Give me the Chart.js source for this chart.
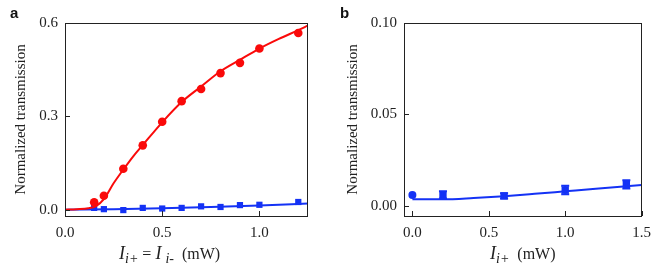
<!DOCTYPE html>
<html><head><meta charset="utf-8">
<script src="https://cdn.jsdelivr.net/npm/chart.js@4/dist/chart.umd.min.js"></script>
<style>
html,body{margin:0;padding:0;background:#fff;}
#wrap{position:relative;width:659px;height:275px;overflow:hidden;}
.cv{position:absolute;top:0;}
.lbl{position:absolute;font-family:"Liberation Sans",Arial,sans-serif;font-weight:bold;font-size:15px;color:#111;}
.xt{position:absolute;font-family:"Liberation Serif","Times New Roman",serif;font-size:16px;color:#222;white-space:nowrap;}
.xt i.big{font-size:18px;}
.xt sub{font-size:14px;font-style:italic;vertical-align:-4px;}
</style></head>
<body><div id="wrap">
<div class="cv" style="left:0;width:330px;height:275px;"><canvas id="ca"></canvas></div>
<div class="cv" style="left:330px;width:329px;height:275px;"><canvas id="cb"></canvas></div>
<div class="lbl" style="left:10px;top:4px;">a</div>
<div class="lbl" style="left:340px;top:4px;">b</div>
<div class="xt" style="left:119px;top:243px;"><i class="big">I</i><sub>i+</sub> = <i class="big">I</i> <sub>i-</sub>&nbsp;&nbsp;(mW)</div>
<div class="xt" style="left:490px;top:243px;"><i class="big">I</i><sub>i+</sub>&nbsp;&nbsp;(mW)</div>
</div>
<script>
// ---- Panel a data ----
const xA = [0.15, 0.2, 0.3, 0.4, 0.5, 0.6, 0.7, 0.8, 0.9, 1.0, 1.2];
const redA = [0.024, 0.045, 0.132, 0.207, 0.283, 0.349, 0.388, 0.439, 0.472, 0.518, 0.568];
const blueA = [0.006, 0.002, -0.001, 0.006, 0.004, 0.006, 0.011, 0.009, 0.015, 0.016, 0.025];
const fitXA = [0, 0.06, 0.12, 0.16, 0.2, 0.25, 0.3, 0.35, 0.4, 0.5, 0.6, 0.7, 0.8, 0.9, 1.0, 1.1, 1.2, 1.25];
const fitRedA = [0.0, 0.002, 0.005, 0.012, 0.034, 0.085, 0.129, 0.171, 0.208, 0.281, 0.346, 0.396, 0.445, 0.482, 0.518, 0.549, 0.577, 0.592];
const fitBlueXA = [0, 0.25, 0.5, 0.75, 1.0, 1.25];
const fitBlueA = [0.0, 0.002, 0.005, 0.009, 0.014, 0.020];
const xTicksA = [0, 0.5, 1.0];
const yTicksA = [0, 0.3, 0.6];
// ---- Panel b data ----
const xB = [0, 0.2, 0.6, 1.0, 1.4];
const yB = [0.0060, 0.0060, 0.0055, 0.0087, 0.0118];
const errB = [0.0005, 0.0020, 0.0015, 0.0023, 0.0023];
const fitXB = [0, 0.2, 0.4, 0.6, 0.8, 1.0, 1.2, 1.5];
const fitYB = [0.0036, 0.0036, 0.0043, 0.0053, 0.0066, 0.0080, 0.0094, 0.0114];
const xTicksB = [0, 0.5, 1.0, 1.5];
const yTicksB = [0, 0.05, 0.10];

const RED = 'rgb(250,10,10)';
const BLUE = 'rgb(20,50,245)';
const SERIF = '"Liberation Serif","Times New Roman",serif';

const pts = (xs, ys) => xs.map((x, i) => ({x, y: ys[i]}));

const framePlugin = {
  id: 'frame',
  afterDraw(chart) {
    const {ctx, chartArea: a, scales} = chart;
    ctx.save();
    ctx.strokeStyle = '#222';
    ctx.lineWidth = 1;
    ctx.strokeRect(Math.round(a.left) + 0.5, Math.round(a.top) + 0.5, Math.round(a.right - a.left) - 1, Math.round(a.bottom - a.top));
    const L = 5;
    scales.x.ticks.forEach(t => {
      const px = Math.round(scales.x.getPixelForValue(t.value)) + 0.5;
      ctx.beginPath(); ctx.moveTo(px, a.bottom); ctx.lineTo(px, a.bottom - L); ctx.stroke();
    });
    scales.y.ticks.forEach(t => {
      const py = Math.round(scales.y.getPixelForValue(t.value)) + 0.5;
      ctx.beginPath(); ctx.moveTo(a.left, py); ctx.lineTo(a.left + L, py); ctx.stroke();
    });
    ctx.restore();
  }
};

const errPlugin = {
  id: 'errbars',
  afterDatasetsDraw(chart, args, opts) {
    if (!opts.errs) return;
    const {ctx, scales} = chart;
    const ds = chart.data.datasets[opts.index];
    ctx.save();
    ctx.strokeStyle = opts.color;
    ctx.lineWidth = 2;
    ds.data.forEach((p, i) => {
      const e = opts.errs[i];
      const px = scales.x.getPixelForValue(p.x);
      const y1 = scales.y.getPixelForValue(p.y - e);
      const y2 = scales.y.getPixelForValue(p.y + e);
      ctx.beginPath();
      ctx.moveTo(px, y1); ctx.lineTo(px, y2);
      if (e > 0.001) {
        ctx.moveTo(px - 4, y1); ctx.lineTo(px + 4, y1);
        ctx.moveTo(px - 4, y2); ctx.lineTo(px + 4, y2);
      }
      ctx.stroke();
    });
    ctx.restore();
  }
};

function makeOpts(cfg) {
  return {
    responsive: false,
    animation: false,
    devicePixelRatio: 1,
    layout: {padding: {top: cfg.top, right: cfg.right, bottom: 0, left: cfg.left}},
    plugins: {legend: {display: false}, tooltip: {enabled: false}, errbars: cfg.err || {}},
    scales: {
      x: {
        type: 'linear', min: cfg.xmin, max: cfg.xmax,
        afterBuildTicks: s => { s.ticks = cfg.xt.map(v => ({value: v})); },
        afterFit: s => { s.height = cfg.xh; },
        grid: {display: false, drawTicks: false},
        border: {display: false},
        ticks: {color: '#222', font: {family: SERIF, size: 15}, padding: 8, maxRotation: 0,
          callback: v => Number(v).toFixed(1)}
      },
      y: {
        type: 'linear', min: cfg.ymin, max: cfg.ymax,
        afterBuildTicks: s => { s.ticks = cfg.yt.map(v => ({value: v})); },
        afterFit: s => { s.width = cfg.yw; },
        grid: {display: false, drawTicks: false},
        border: {display: false},
        title: {display: true, text: 'Normalized transmission', color: '#222', font: {family: SERIF, size: 15}, padding: {top: 0, bottom: 4}},
        ticks: {color: '#222', font: {family: SERIF, size: 15}, padding: 7,
          callback: v => Number(v).toFixed(cfg.ydec)}
      }
    }
  };
}

const ca = document.getElementById('ca');
ca.width = 330; ca.height = 275;
new Chart(ca, {
  type: 'scatter',
  data: {datasets: [
    {data: pts(fitXA, fitRedA), showLine: true, borderColor: RED, borderWidth: 2, pointRadius: 0, cubicInterpolationMode: 'monotone'},
    {data: pts(fitBlueXA, fitBlueA), showLine: true, borderColor: BLUE, borderWidth: 2, pointRadius: 0, cubicInterpolationMode: 'monotone'},
    {data: pts(xA, redA), pointStyle: 'circle', pointRadius: 4.3, backgroundColor: RED, borderColor: RED, borderWidth: 0},
    {data: pts(xA, blueA), pointStyle: 'rect', pointRadius: 4.4, backgroundColor: BLUE, borderColor: BLUE, borderWidth: 0}
  ]},
  options: makeOpts({top: 23, right: 22, left: 12, xmin: 0, xmax: 1.25, ymin: -0.02, ymax: 0.6, xt: xTicksA, yt: yTicksA, xh: 59, yw: 53, ydec: 1}),
  plugins: [framePlugin, errPlugin]
});

const cb = document.getElementById('cb');
cb.width = 329; cb.height = 275;
new Chart(cb, {
  type: 'scatter',
  data: {datasets: [
    {data: pts(fitXB, fitYB), showLine: true, borderColor: BLUE, borderWidth: 2, pointRadius: 0, cubicInterpolationMode: 'monotone'},
    {data: pts(xB, yB), pointStyle: ['circle', 'rect', 'rect', 'rect', 'rect'], pointRadius: [4, 5.2, 5.2, 5.2, 5.2], backgroundColor: BLUE, borderColor: BLUE, borderWidth: 0}
  ]},
  options: makeOpts({top: 23, right: 10, left: 14, xmin: -0.055, xmax: 1.5, ymin: -0.0055, ymax: 0.10, xt: xTicksB, yt: yTicksB, xh: 59, yw: 60, ydec: 2,
    err: {index: 1, errs: errB, color: BLUE}}),
  plugins: [framePlugin, errPlugin]
});
</script>
</body></html>
